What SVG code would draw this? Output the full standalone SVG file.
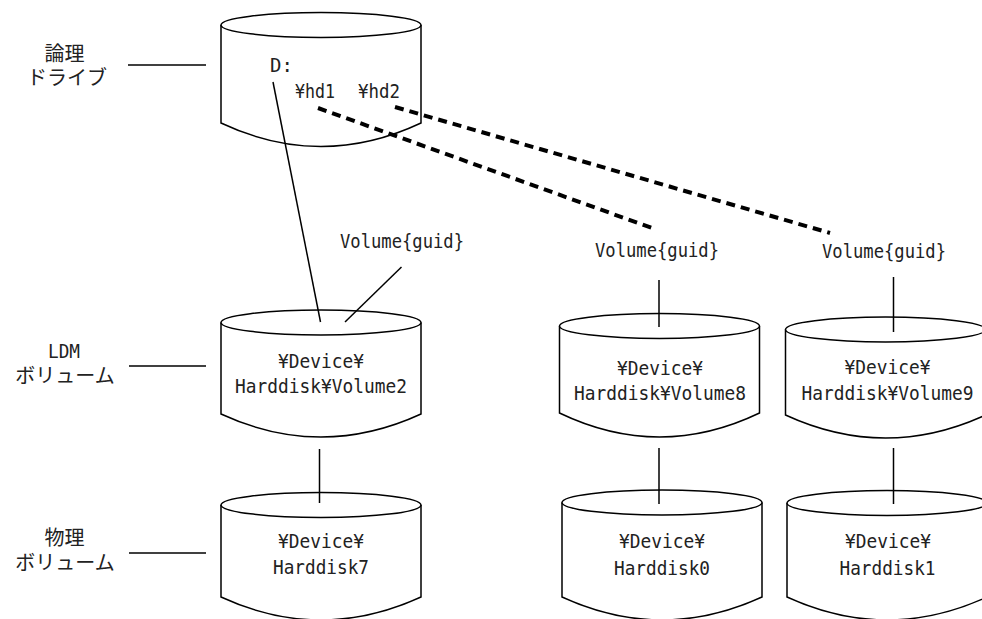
<svg xmlns="http://www.w3.org/2000/svg" width="982" height="619" viewBox="0 0 982 619">
<defs>
<style>
.cyl{fill:#fff;stroke:#000;stroke-width:1.5}
.ln{stroke:#000;stroke-width:1.5;fill:none}
.dash{stroke:#000;stroke-width:4;stroke-dasharray:9 6;fill:none}
.t{font-family:"DejaVu Sans Mono","Liberation Mono",monospace;font-size:19px;fill:#222}
.j{font-family:"Noto Sans CJK JP","Noto Sans",sans-serif;font-size:20px;fill:#222}
.m{text-anchor:middle}
</style>
</defs>
<rect width="982" height="619" fill="#fff"/>
<g id="labels">
<text class="j m" x="64.5" y="61">論理</text>
<text class="j m" x="67" y="85">ドライブ</text>
<text class="t m" x="64" y="358" textLength="32" lengthAdjust="spacingAndGlyphs">LDM</text>
<text class="j m" x="65" y="383">ボリューム</text>
<text class="j m" x="64.5" y="545">物理</text>
<text class="j m" x="65" y="570">ボリューム</text>
</g>
<g id="node-logical">
<path class="cyl" d="M221,25 L221,123 Q321,170 421,123 L421,25"/>
<ellipse class="cyl" cx="321" cy="25" rx="100" ry="12.5"/>
<text class="t" x="270" y="72">D:</text>
<text class="t" x="295" y="98" textLength="40" lengthAdjust="spacingAndGlyphs">¥hd1</text>
<text class="t" x="358" y="98" textLength="42" lengthAdjust="spacingAndGlyphs">¥hd2</text>
</g>
<g id="node-volume2">
<path class="cyl" d="M221,322.5 L221,414 Q321,460 421,414 L421,322.5"/>
<ellipse class="cyl" cx="321" cy="322.5" rx="100" ry="12.5"/>
<text class="t m" x="321" y="368" textLength="86" lengthAdjust="spacingAndGlyphs">¥Device¥</text>
<text class="t m" x="321" y="393" textLength="172" lengthAdjust="spacingAndGlyphs">Harddisk¥Volume2</text>
</g>
<g id="node-harddisk7">
<path class="cyl" d="M221,505 L221,597 Q321,643 421,597 L421,505"/>
<ellipse class="cyl" cx="321" cy="505" rx="100" ry="12.5"/>
<text class="t m" x="321" y="548" textLength="86" lengthAdjust="spacingAndGlyphs">¥Device¥</text>
<text class="t m" x="321" y="574" textLength="96" lengthAdjust="spacingAndGlyphs">Harddisk7</text>
</g>
<g id="node-volume8">
<path class="cyl" d="M559.5,326 L559.5,413 Q659.5,461 759.5,413 L759.5,326"/>
<ellipse class="cyl" cx="659.5" cy="326" rx="100" ry="12.5"/>
<text class="t m" x="660" y="375" textLength="86" lengthAdjust="spacingAndGlyphs">¥Device¥</text>
<text class="t m" x="660" y="400" textLength="172" lengthAdjust="spacingAndGlyphs">Harddisk¥Volume8</text>
</g>
<g id="node-volume9">
<path class="cyl" d="M785.5,329.5 L785.5,415 Q885.5,461 985.5,415 L985.5,329.5"/>
<ellipse class="cyl" cx="885.5" cy="329.5" rx="100" ry="12.5"/>
<text class="t m" x="887.5" y="374" textLength="86" lengthAdjust="spacingAndGlyphs">¥Device¥</text>
<text class="t m" x="887.5" y="400" textLength="172" lengthAdjust="spacingAndGlyphs">Harddisk¥Volume9</text>
</g>
<g id="node-harddisk0">
<path class="cyl" d="M562,502.5 L562,597 Q662,643 762,597 L762,502.5"/>
<ellipse class="cyl" cx="662" cy="502.5" rx="100" ry="12.5"/>
<text class="t m" x="662" y="548" textLength="86" lengthAdjust="spacingAndGlyphs">¥Device¥</text>
<text class="t m" x="662" y="575" textLength="96" lengthAdjust="spacingAndGlyphs">Harddisk0</text>
</g>
<g id="node-harddisk1">
<path class="cyl" d="M787,503 L787,597 Q887,643 987,597 L987,503"/>
<ellipse class="cyl" cx="887" cy="503" rx="100" ry="12.5"/>
<text class="t m" x="888" y="548" textLength="86" lengthAdjust="spacingAndGlyphs">¥Device¥</text>
<text class="t m" x="887.5" y="575" textLength="96" lengthAdjust="spacingAndGlyphs">Harddisk1</text>
</g>
<g id="guid-labels">
<text class="t" x="340" y="248" textLength="124" lengthAdjust="spacingAndGlyphs">Volume{guid}</text>
<text class="t" x="595" y="257" textLength="124" lengthAdjust="spacingAndGlyphs">Volume{guid}</text>
<text class="t" x="822" y="258" textLength="124" lengthAdjust="spacingAndGlyphs">Volume{guid}</text>
</g>
<g id="connectors">
<line class="ln" x1="128" y1="65" x2="206" y2="65"/>
<line class="ln" x1="129" y1="366" x2="206" y2="366"/>
<line class="ln" x1="129" y1="553" x2="206" y2="553"/>
<line class="ln" x1="273" y1="82" x2="320.5" y2="322"/>
<line class="ln" x1="401.5" y1="267" x2="345" y2="322"/>
<line class="ln" x1="319.5" y1="449" x2="319.5" y2="503"/>
<line class="ln" x1="659" y1="280" x2="659" y2="327"/>
<line class="ln" x1="659" y1="448" x2="659" y2="504"/>
<line class="ln" x1="893.5" y1="277" x2="893.5" y2="332"/>
<line class="ln" x1="893.5" y1="448" x2="893.5" y2="504"/>
<line class="dash" x1="318" y1="108" x2="652" y2="228"/>
<line class="dash" x1="395" y1="107" x2="830" y2="233"/>
</g>
</svg>
